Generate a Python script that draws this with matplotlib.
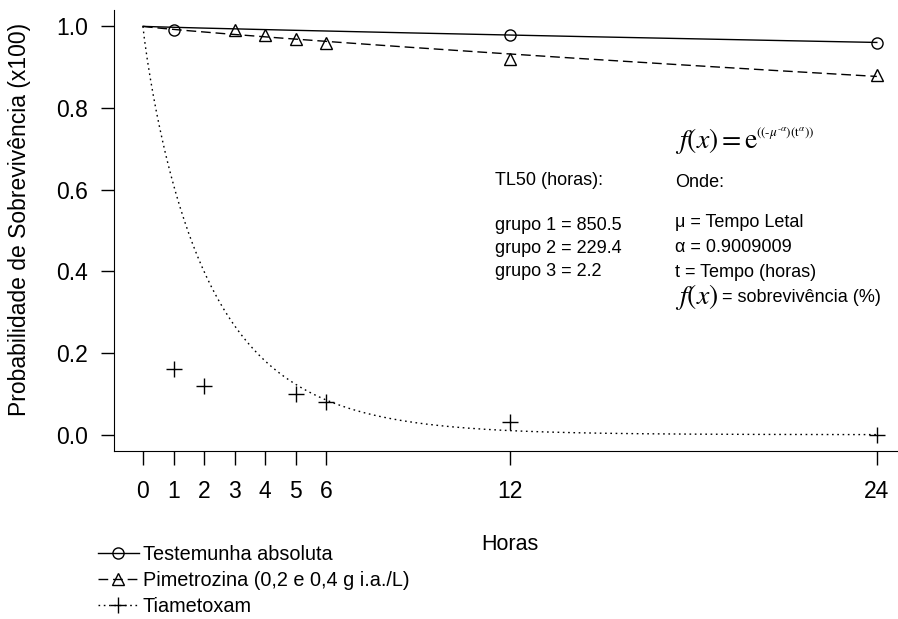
import numpy as np
import matplotlib
matplotlib.use('Agg')
import matplotlib.pyplot as plt
from matplotlib.lines import Line2D

plt.rcParams['font.family'] = ['Liberation Sans', 'DejaVu Sans']
plt.rcParams['mathtext.fontset'] = 'stix'

# dados
horas_ticks = [0, 1, 2, 3, 4, 5, 6, 12, 24]
t_test = [1, 12, 24]
s_test = [0.99, 0.98, 0.96]
t_pime = [3, 4, 5, 6, 12, 24]
s_pime = [0.99, 0.98, 0.97, 0.96, 0.92, 0.88]
t_tiam = [1, 2, 5, 6, 12, 24]
s_tiam = [0.16, 0.12, 0.10, 0.08, 0.03, 0.0]

tl50 = [850.5, 229.4, 2.2]   # mu (tempo letal) de cada grupo
alfa = 0.9009009
nomes = ['Testemunha absoluta', 'Pimetrozina (0,2 e 0,4 g i.a./L)', 'Tiametoxam']

fig = plt.figure(figsize=(8.98, 6.19), dpi=100)
ax = fig.add_axes([0.1265, 0.2714, 0.8826, 0.7124])

estilos = ['-', (0, (7, 3.5)), (0, (1.2, 2.6))]
marcadores = ['o', '^', '+']

# curvas do modelo weibull: f(t) = exp(-mu^-a * t^a)
t = np.linspace(0, 24, 500)
for mu, ls in zip(tl50, estilos):
    ax.plot(t, np.exp(-(mu ** -alfa) * t ** alfa), color='black', lw=1, ls=ls)

kw = dict(color='black', ls='none', mfc='none', mew=1, ms=8)
ax.plot(t_test, s_test, marker='o', **kw)
ax.plot(t_pime, s_pime, marker='^', **kw)
ax.plot(t_tiam, s_tiam, marker='+', color='black', ls='none', mew=1, ms=11)

ax.set_xlim(-0.96, 24.96)
ax.set_ylim(-0.04, 1.04)
ax.set_xticks(horas_ticks)
ax.set_xticklabels([str(h) for h in horas_ticks])
ax.set_yticks([0.0, 0.2, 0.4, 0.6, 0.8, 1.0])
ax.set_yticklabels(['0.0', '0.2', '0.4', '0.6', '0.8', '1.0'])
ax.tick_params(axis='x', direction='out', length=10, width=1, pad=11, labelsize=16.5)
ax.tick_params(axis='y', direction='out', length=9.5, width=1, pad=9, labelsize=16.5)
ax.spines['top'].set_visible(False)
ax.spines['right'].set_visible(False)
ax.set_xlabel('Horas', fontsize=15.5, labelpad=22)
ax.set_ylabel('Probabilidade de Sobrevivência (x100)', fontsize=16.5)
ax.yaxis.set_label_coords(-0.104, 0.525)

# textos
ax.text(11.5, 0.623, 'TL50 (horas):', fontsize=13, va='center')
for i, v in enumerate(tl50):
    ax.text(11.5, 0.512 - i * 0.056, 'grupo %d = %s' % (i + 1, v), fontsize=13, va='center')

ax.text(17.4, 0.72, r'$f(x) = \mathrm{e}$', fontsize=20, va='center')
ax.text(20.05, 0.738, r'$((\text{-}\mu^{\text{-}\alpha})(\mathrm{t}^{\alpha}))$', fontsize=9.5, va='center')
ax.text(17.4, 0.618, 'Onde:', fontsize=13, va='center')
ax.text(17.4, 0.52, 'μ = Tempo Letal', fontsize=13, va='center')
ax.text(17.4, 0.458, 'α = %s' % alfa, fontsize=13, va='center')
ax.text(17.4, 0.397, 't = Tempo (horas)', fontsize=13, va='center')
ax.text(17.4, 0.336, r'$f(x)$', fontsize=20, va='center')
ax.text(18.95, 0.336, '= sobrevivência (%)', fontsize=13, va='center')

handles = [Line2D([], [], color='black', lw=1, ls=ls, marker=m, mfc='none',
                  ms=(11 if m == '+' else 8)) for ls, m in zip(estilos, marcadores)]
fig.legend(handles, nomes, loc='upper left', bbox_to_anchor=(98 / 898, 1 - 545 / 619),
           frameon=False, fontsize=14.3, handlelength=2.05, handletextpad=0.2,
           labelspacing=0.34, borderaxespad=0, borderpad=0)

fig.savefig('out.png', dpi=100)
